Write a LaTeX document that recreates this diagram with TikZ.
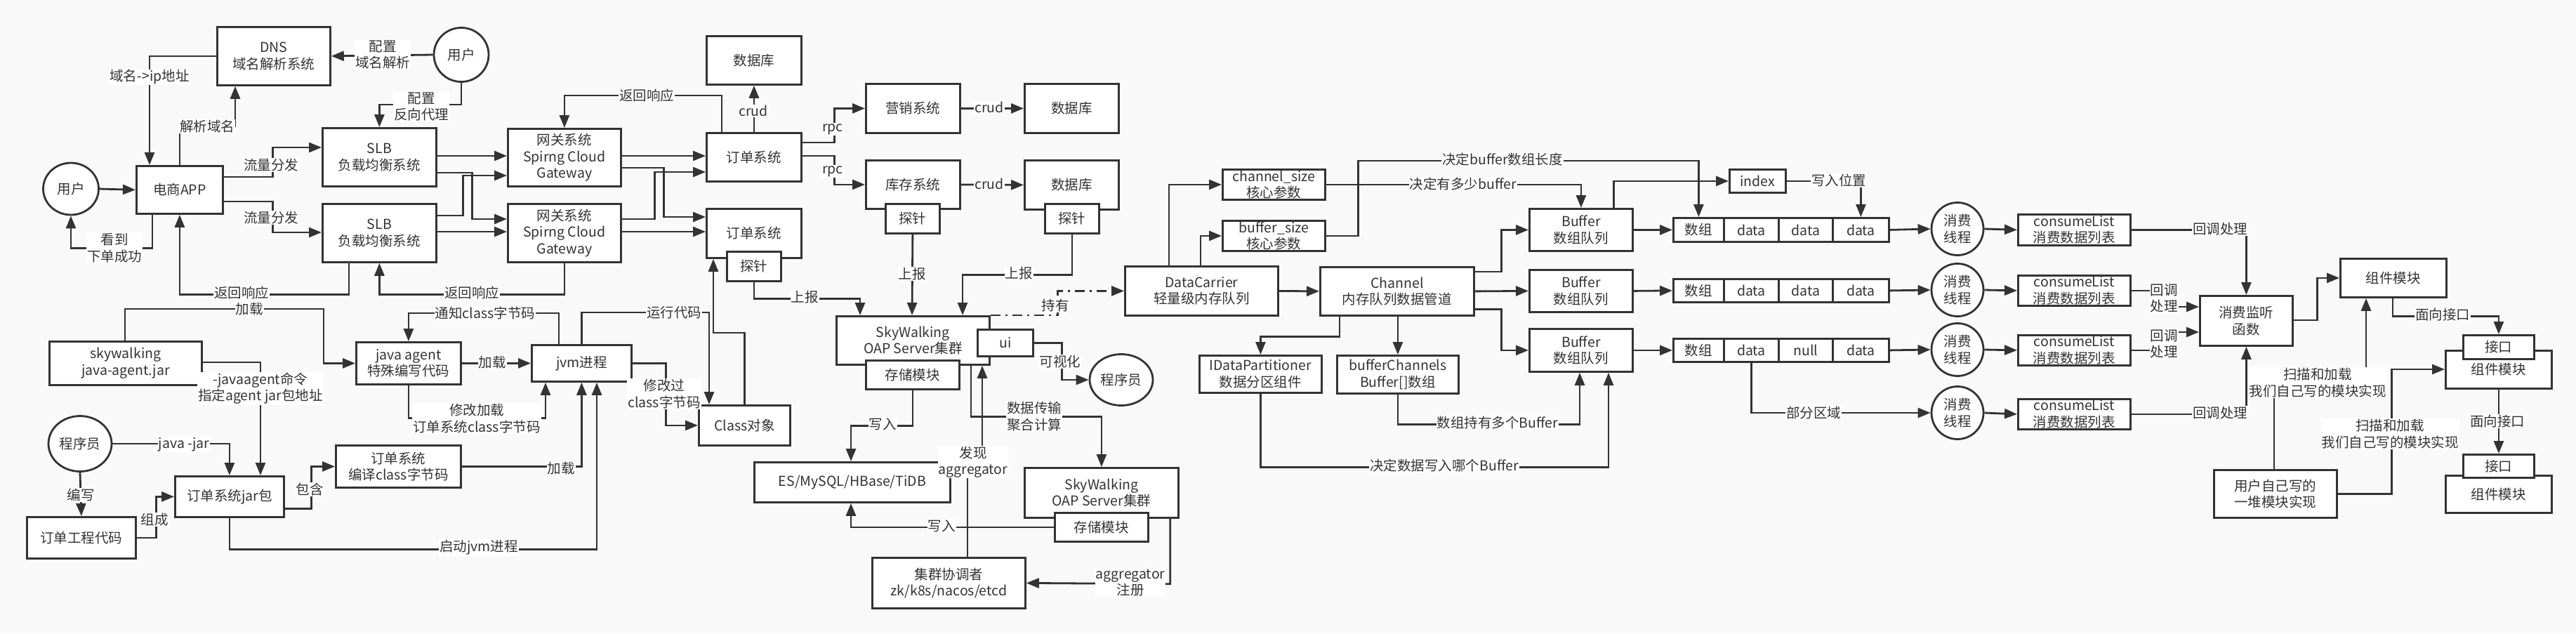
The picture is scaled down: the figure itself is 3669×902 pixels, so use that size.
\documentclass[tikz,border=0pt]{standalone}
\usepackage{fontspec}
\setmainfont{Noto Sans CJK SC}
\usepackage{tikz}
\usetikzlibrary{calc,arrows.meta,shapes.geometric}
\definecolor{encre}{HTML}{333333}
\definecolor{fond}{HTML}{F9F9F9}
\tikzstyle{boite} = [rectangle, draw=encre, line width=2.8pt, fill=white, text=encre, inner sep=0pt, align=center, anchor=north west, font=\fontsize{19.5}{23.5}\selectfont]
\tikzstyle{rond} = [ellipse, draw=encre, line width=2.8pt, fill=white, text=encre, inner sep=0pt, align=center, font=\fontsize{19.5}{23.5}\selectfont]
\tikzstyle{etiquette} = [fill=white, text=encre, inner sep=1pt, align=center, font=\fontsize{19.5}{23.5}\selectfont]
\tikzstyle{fleche} = [draw=encre, line width=2.8pt, -{Triangle[length=18pt,width=14pt]}]
\tikzstyle{pointille} = [dash pattern=on 14pt off 7pt on 3pt off 7pt]

\begin{document}
\begin{tikzpicture}[x=1pt,y=-1pt]

        \fill[fond] (0,0) rectangle (3669,902);
        \useasboundingbox (0,0) rectangle (3669,902);

        % acces utilisateur
        \node (user1) [rond, minimum width=78pt, minimum height=77pt] at (657,78) {用户};
        \node (user2) [rond, minimum width=79pt, minimum height=74pt] at (101,269) {用户};
        \node (dns) [boite, minimum width=161pt, minimum height=83pt] at (308,37) {DNS\\域名解析系统};
        \node (app) [boite, minimum width=123pt, minimum height=68pt] at (193,235) {电商APP};
        \node (slb1) [boite, minimum width=162pt, minimum height=83pt] at (458,181) {SLB\\负载均衡系统};
        \node (slb2) [boite, minimum width=162pt, minimum height=83pt] at (458,289) {SLB\\负载均衡系统};
        \node (gw1) [boite, minimum width=161pt, minimum height=82pt] at (722,182) {网关系统\\Spirng Cloud\\Gateway};
        \node (gw2) [boite, minimum width=161pt, minimum height=83pt] at (722,289) {网关系统\\Spirng Cloud\\Gateway};
        \node (db1) [boite, minimum width=135pt, minimum height=69pt] at (1005,50) {数据库};
        \node (order1) [boite, minimum width=135pt, minimum height=69pt] at (1005,188) {订单系统};
        \node (order2) [boite, minimum width=135pt, minimum height=70pt] at (1005,296) {订单系统};
        \node (probe1) [boite, minimum width=77pt, minimum height=42pt] at (1034,357) {探针};
        \node (mkt) [boite, minimum width=134pt, minimum height=70pt] at (1232,118) {营销系统};
        \node (stock) [boite, minimum width=134pt, minimum height=69pt] at (1232,227) {库存系统};
        \node (probe2) [boite, minimum width=77pt, minimum height=42pt] at (1260,289) {探针};
        \node (db2) [boite, minimum width=134pt, minimum height=70pt] at (1458,118) {数据库};
        \node (db3) [boite, minimum width=134pt, minimum height=70pt] at (1458,227) {数据库};
        \node (probe3) [boite, minimum width=77pt, minimum height=42pt] at (1487,289) {探针};

        % agent et jvm
        \node (swjar) [boite, minimum width=217pt, minimum height=62pt] at (69,485) {skywalking\\java-agent.jar};
        \node (agent) [boite, minimum width=149pt, minimum height=60pt] at (506,486) {java agent\\特殊编写代码};
        \node (jvm) [boite, minimum width=142pt, minimum height=52pt] at (756,490) {jvm进程};
        \node (cls) [boite, minimum width=130pt, minimum height=57pt] at (994,576) {Class对象};
        \node (coder) [rond, minimum width=90pt, minimum height=79pt] at (114,632) {程序员};
        \node (src) [boite, minimum width=155pt, minimum height=59pt] at (37,735) {订单工程代码};
        \node (jar) [boite, minimum width=155pt, minimum height=58pt] at (248,677) {订单系统jar包};
        \node (compile) [boite, minimum width=178pt, minimum height=60pt] at (477,633) {订单系统\\编译class字节码};

        % oap server
        \node (oap1) [boite, minimum width=218pt, minimum height=69pt] at (1190,449) {SkyWalking\\OAP Server集群};
        \node (store1) [boite, minimum width=133pt, minimum height=41pt] at (1232,512) {存储模块};
        \node (ui) [boite, minimum width=79pt, minimum height=38pt] at (1391,468) {ui};
        \node (viewer) [rond, minimum width=90pt, minimum height=73pt] at (1597,541) {程序员};
        \node (es) [boite, minimum width=279pt, minimum height=57pt] at (1073,657) {ES/MySQL/HBase/TiDB};
        \node (oap2) [boite, minimum width=219pt, minimum height=71pt] at (1458,665) {SkyWalking\\OAP Server集群};
        \node (store2) [boite, minimum width=133pt, minimum height=41pt] at (1501,729) {存储模块};
        \node (coord) [boite, minimum width=218pt, minimum height=72pt] at (1241,793) {集群协调者\\zk/k8s/nacos/etcd};

        % datacarrier
        \node (dc) [boite, minimum width=218pt, minimum height=70pt] at (1601,378) {DataCarrier\\轻量级内存队列};
        \node (chsize) [boite, minimum width=146pt, minimum height=43pt] at (1740,240) {channel\_size\\核心参数};
        \node (bfsize) [boite, minimum width=146pt, minimum height=43pt] at (1740,313) {buffer\_size\\核心参数};
        \node (channel) [boite, minimum width=219pt, minimum height=69pt] at (1879,379) {Channel\\内存队列数据管道};
        \node (idp) [boite, minimum width=174pt, minimum height=53pt] at (1707,505) {IDataPartitioner\\数据分区组件};
        \node (bch) [boite, minimum width=173pt, minimum height=54pt] at (1903,505) {bufferChannels\\Buffer[]数组};
        \node (buf1) [boite, minimum width=147pt, minimum height=60pt] at (2177,296) {Buffer\\数组队列};
        \node (buf2) [boite, minimum width=147pt, minimum height=60pt] at (2177,383) {Buffer\\数组队列};
        \node (buf3) [boite, minimum width=147pt, minimum height=61pt] at (2177,467) {Buffer\\数组队列};
        \node (index) [boite, minimum width=80pt, minimum height=33pt] at (2462,240) {index};

        \node (r1a) [boite, minimum width=72pt, minimum height=34pt] at (2382,309) {数组};
        \node (r1b) [boite, minimum width=78pt, minimum height=34pt] at (2454,309) {data};
        \node (r1c) [boite, minimum width=77pt, minimum height=34pt] at (2532,309) {data};
        \node (r1d) [boite, minimum width=80pt, minimum height=34pt] at (2609,309) {data};
        \node (r2a) [boite, minimum width=72pt, minimum height=33pt] at (2382,396) {数组};
        \node (r2b) [boite, minimum width=78pt, minimum height=33pt] at (2454,396) {data};
        \node (r2c) [boite, minimum width=77pt, minimum height=33pt] at (2532,396) {data};
        \node (r2d) [boite, minimum width=80pt, minimum height=33pt] at (2609,396) {data};
        \node (r3a) [boite, minimum width=72pt, minimum height=33pt] at (2382,481) {数组};
        \node (r3b) [boite, minimum width=78pt, minimum height=33pt] at (2454,481) {data};
        \node (r3c) [boite, minimum width=77pt, minimum height=33pt] at (2532,481) {null};
        \node (r3d) [boite, minimum width=80pt, minimum height=33pt] at (2609,481) {data};

        \node (cons1) [rond, minimum width=74pt, minimum height=75pt] at (2788,326) {消费\\线程};
        \node (cons2) [rond, minimum width=74pt, minimum height=75pt] at (2788,413) {消费\\线程};
        \node (cons3) [rond, minimum width=74pt, minimum height=75pt] at (2788,498) {消费\\线程};
        \node (cons4) [rond, minimum width=74pt, minimum height=75pt] at (2788,588) {消费\\线程};
        \node (cl1) [boite, minimum width=160pt, minimum height=44pt] at (2873,304) {consumeList\\消费数据列表};
        \node (cl2) [boite, minimum width=160pt, minimum height=43pt] at (2873,391) {consumeList\\消费数据列表};
        \node (cl3) [boite, minimum width=160pt, minimum height=43pt] at (2873,476) {consumeList\\消费数据列表};
        \node (cl4) [boite, minimum width=160pt, minimum height=43pt] at (2873,567) {consumeList\\消费数据列表};

        % modules
        \node (listener) [boite, minimum width=132pt, minimum height=71pt] at (3132,420) {消费监听\\函数};
        \node (mod1) [boite, minimum width=151pt, minimum height=55pt] at (3332,367) {组件模块};
        \node (mod2) [boite, minimum width=151pt, minimum height=54pt] at (3482,498) {组件模块};
        \node (if2) [boite, minimum width=101pt, minimum height=34pt] at (3507,476) {接口};
        \node (mod3) [boite, minimum width=151pt, minimum height=53pt] at (3482,676) {组件模块};
        \node (if3) [boite, minimum width=101pt, minimum height=33pt] at (3507,646) {接口};
        \node (impl) [boite, minimum width=175pt, minimum height=68pt] at (3152,668) {用户自己写的\\一堆模块实现};


        \draw[fleche] (user2.east) -- (app.west);
        \draw[fleche] (dns.west) -| ($(app.north west)+(20,0)$);
        \draw[fleche] (app.north) -- ++(0,-55) -| ($(dns.south west)+(27,0)$);
        \draw[fleche] (user1.west) -- (dns.east);
        \draw[fleche] (user1.south) -- ++(0,31) -| (slb1.north);
        \draw[fleche] ($(app.north east)+(0,17)$) -- ++(70,0) |- ($(slb1.north west)+(0,29)$);
        \draw[fleche] ($(app.north east)+(0,52)$) -- ++(70,0) |- ($(slb2.north west)+(0,42)$);
        \draw[fleche] ($(app.south west)+(24,0)$) -- ++(0,48) -| (user2.south);
        \draw[fleche] ($(slb2.south west)+(39,0)$) -- ++(0,45) -| (app.south);
        \draw[fleche] (gw2.south) -- ++(0,45) -| (slb2.south);

        \draw[fleche] ($(slb1.north east)+(0,41)$) -- ($(gw1.north west)+(0,40)$);
        \draw[fleche] ($(slb1.north east)+(0,65)$) -- ++(50,0) |- ($(gw2.north west)+(0,23)$);
        \draw[fleche] ($(slb2.north east)+(0,18)$) -- ++(37,0) |- ($(gw1.north west)+(0,68)$);
        \draw[fleche] ($(slb2.north east)+(0,41)$) -- ($(gw2.north west)+(0,41)$);
        \draw[fleche] ($(gw1.north east)+(0,40)$) -- ($(order1.north west)+(0,34)$);
        \draw[fleche] ($(gw1.north east)+(0,57)$) -- ++(60,0) |- ($(order2.north west)+(0,13)$);
        \draw[fleche] ($(gw2.north east)+(0,23)$) -- ++(47,0) |- ($(order1.north west)+(0,57)$);
        \draw[fleche] ($(gw2.north east)+(0,41)$) -- ($(order2.north west)+(0,34)$);
        \draw[fleche] ($(order1.north west)+(23,0)$) -- ++(0,-52) -| (gw1.north);
        \draw[fleche] (order1.north) -- (db1.south);
        \draw[fleche] ($(order1.north east)+(0,15)$) -- ++(46,0) |- (mkt.west);
        \draw[fleche] ($(order1.north east)+(0,34)$) -- ++(46,0) |- (stock.west);
        \draw[fleche] (mkt.east) -- (db2.west);
        \draw[fleche] (stock.east) -- (db3.west);

        \draw[fleche] (probe1.south) -- ++(0,24) -| ($(oap1.north west)+(35,0)$);
        \draw[fleche] (probe2.south) -- ($(oap1.north west)+(109,0)$);
        \draw[fleche] (probe3.south) -- ++(0,58) -| ($(oap1.north west)+(181,0)$);
        \draw[fleche, pointille] (oap1.north east) -- ++(96,0) |- (dc.west);
        \draw[fleche] (ui.east) -- ++(40,0) |- (viewer.west);
        \draw[fleche] ($(oap1.south west)+(193,0)$) -- ++(0,73) -| (oap2.north);
        \draw[fleche] ($(coord.north west)+(137,0)$) -- ++(0,-135) -- ++(21,0) -- ($(oap1.south west)+(209,0)$);
        \draw[fleche] (store1.south) -- ++(0,51) -| ($(es.north west)+(139,0)$);
        \draw[fleche] (store2.west) -| ($(es.south west)+(139,0)$);
        \draw[fleche] ($(oap2.south east)+(-13,0)$) -- ++(0,93) -- (coord.east);

        \draw[fleche] ($(swjar.north west)+(109,0)$) -- ++(0,-45) -- ++(283,0) |- (agent.west);
        \draw[fleche] ($(swjar.north east)+(0,31)$) -| ($(jar.north west)+(123,0)$);
        \draw[fleche] (coder.east) -| (jar.north);
        \draw[fleche] (coder.south) -- (src.north);
        \draw[fleche] (src.east) -- ++(28,0) |- (jar.west);
        \draw[fleche] ($(jar.south east)+(0,-13)$) -- ++(38,0) |- (compile.west);
        \draw[fleche] (agent.east) -- (jvm.west);
        \draw[fleche] ($(jvm.north west)+(40,0)$) -- ++(0,-44) -| (agent.north);
        \draw[fleche] (agent.south) -- ++(0,47) -| ($(jvm.south west)+(21,0)$);
        \draw[fleche] (compile.east) -| (jvm.south);
        \draw[fleche] (jar.south) -- ++(0,45) -| ($(jvm.south west)+(94,0)$);
        \draw[fleche] (jvm.east) -- ++(48,0) |- (cls.west);
        \draw[fleche] (jvm.north) -- ++(0,-45) -| ($(cls.north west)+(16,0)$);
        \draw[fleche] (cls.north) -- ++(0,-102) -| ($(order2.south west)+(11,0)$);

        \draw[fleche] (dc.east) -- (channel.west);
        \draw[fleche] ($(dc.north west)+(64,0)$) |- (chsize.west);
        \draw[fleche] ($(dc.north west)+(109,0)$) |- (bfsize.west);
        \draw[fleche] (chsize.east) -| (buf1.north);
        \draw[fleche] (bfsize.east) -- ++(46,0) -- ++(0,-107) -| (r1a.north);
        \draw[fleche] ($(channel.south west)+(29,0)$) -- ++(0,29) -| (idp.north);
        \draw[fleche] (idp.south) -- ++(0,105) -| ($(buf3.south west)+(114,0)$);
        \draw[fleche] (bch.north |- channel.south) -- (bch.north);
        \draw[fleche] (bch.south) -- ++(0,43) -| ($(buf3.south west)+(73,0)$);
        \draw[fleche] ($(channel.north east)+(0,8)$) -- ++(38,0) |- (buf1.west);
        \draw[fleche] (channel.east) -- (buf2.west);
        \draw[fleche] ($(channel.south east)+(0,-10)$) -- ++(38,0) |- (buf3.west);
        \draw[fleche] (buf1.east) -- (r1a.west);
        \draw[fleche] (buf2.east) -- (r2a.west);
        \draw[fleche] (buf3.east) -- (r3a.west);
        \draw[fleche] ($(buf1.north east)+(-28,0)$) |- (index.west);
        \draw[fleche] (index.east) -| (r1d.north);
        \draw[fleche] (r3b.south) |- (cons4.west);

        \draw[fleche] (r1d.east) -- (cons1.west);
        \draw[fleche] (r2d.east) -- (cons2.west);
        \draw[fleche] (r3d.east) -- (cons3.west);
        \draw[fleche] (cons1.east) -- (cl1.west);
        \draw[fleche] (cons2.east) -- (cl2.west);
        \draw[fleche] (cons3.east) -- (cl3.west);
        \draw[fleche] (cons4.east) -- (cl4.west);
        \draw[fleche] (cl1.east) -| (listener.north);
        \draw[fleche] (cl2.east) -- ++(49,0) |- ($(listener.north west)+(0,17)$);
        \draw[fleche] (cl3.east) -- ++(49,0) |- ($(listener.north west)+(0,53)$);
        \draw[fleche] (cl4.east) -| (listener.south);

        \draw[fleche] ($(listener.north east)+(0,36)$) -- ++(34,0) |- (mod1.west);
        \draw[fleche] ($(mod1.south west)+(76,0)$) -- ++(0,26) -| (if2.north);
        \draw[fleche] (mod2.south) -- (if3.north);
        \draw[fleche] ($(impl.north west)+(87,0)$) -- ++(0,-123) -- ++(131,0) -- ($(mod1.south west)+(38,0)$);
        \draw[fleche] (impl.east) -- ++(77,0) |- ($(mod2.north west)+(0,28)$);


        \node (eIp) [etiquette] at (213,110) {域名->ip地址};
        \node (eParse) [etiquette] at (295,180) {解析域名};
        \node (eDns) [etiquette] at (545,78) {配置\\域名解析};
        \node (eProxy) [etiquette] at (600,152) {配置\\反向代理};
        \node (eFlow1) [etiquette] at (386,235) {流量分发};
        \node (eFlow2) [etiquette] at (386,310) {流量分发};
        \node (eDone) [etiquette] at (163,353) {看到\\下单成功};
        \node (eResp1) [etiquette] at (344,417) {返回响应};
        \node (eResp2) [etiquette] at (672,417) {返回响应};
        \node (eResp3) [etiquette] at (921,136) {返回响应};
        \node (eCrud1) [etiquette] at (1073,158) {crud};
        \node (eCrud2) [etiquette] at (1409,153) {crud};
        \node (eCrud3) [etiquette] at (1409,262) {crud};
        \node (eRpc1) [etiquette] at (1186,184) {rpc};
        \node (eRpc2) [etiquette] at (1186,244) {rpc};
        \node (eRep1) [etiquette] at (1146,423) {上报};
        \node (eRep2) [etiquette] at (1299,390) {上报};
        \node (eRep3) [etiquette] at (1451,389) {上报};
        \node (eHold) [etiquette] at (1503,435) {持有};
        \node (eView) [etiquette] at (1510,515) {可视化};
        \node (eSync) [etiquette] at (1473,593) {数据传输\\聚合计算};
        \node (eFind) [etiquette] at (1386,658) {发现\\aggregator};
        \node (eWrite1) [etiquette] at (1257,604) {写入};
        \node (eWrite2) [etiquette] at (1341,749) {写入};
        \node (eReg) [etiquette] at (1610,830) {aggregator\\注册};

        \node (eLoad1) [etiquette] at (355,440) {加载};
        \node (eCmd) [etiquette] at (371,553) {-javaagent命令\\指定agent jar包地址};
        \node (eJava) [etiquette] at (262,633) {java -jar};
        \node (eWriteCode) [etiquette] at (115,705) {编写};
        \node (eBuild) [etiquette] at (220,740) {组成};
        \node (eHas) [etiquette] at (441,697) {包含};
        \node (eLoad2) [etiquette] at (701,516) {加载};
        \node (eNotify) [etiquette] at (691,446) {通知class字节码};
        \node (eModify) [etiquette] at (679,596) {修改加载\\订单系统class字节码};
        \node (eLoad3) [etiquette] at (799,667) {加载};
        \node (eStart) [etiquette] at (682,780) {启动jvm进程};
        \node (eChanged) [etiquette] at (946,561) {修改过\\class字节码};
        \node (eRun) [etiquette] at (960,445) {运行代码};

        \node (eLen) [etiquette] at (2140,227) {决定buffer数组长度};
        \node (eCount) [etiquette] at (2084,262) {决定有多少buffer};
        \node (ePos) [etiquette] at (2619,257) {写入位置};
        \node (ePart) [etiquette] at (2583,588) {部分区域};
        \node (eMany) [etiquette] at (2133,602) {数组持有多个Buffer};
        \node (eWhich) [etiquette] at (2057,663) {决定数据写入哪个Buffer};
        \node (eCb1) [etiquette] at (3162,326) {回调处理};
        \node (eCb2) [etiquette] at (3082,425) {回调\\处理};
        \node (eCb3) [etiquette] at (3082,490) {回调\\处理};
        \node (eCb4) [etiquette] at (3162,588) {回调处理};
        \node (eIf1) [etiquette] at (3479,448) {面向接口};
        \node (eIf2) [etiquette] at (3557,600) {面向接口};
        \node (eScan1) [etiquette] at (3301,545) {扫描和加载\\我们自己写的模块实现};
        \node (eScan2) [etiquette] at (3404,618) {扫描和加载\\我们自己写的模块实现};

    \end{tikzpicture}
\end{document}
